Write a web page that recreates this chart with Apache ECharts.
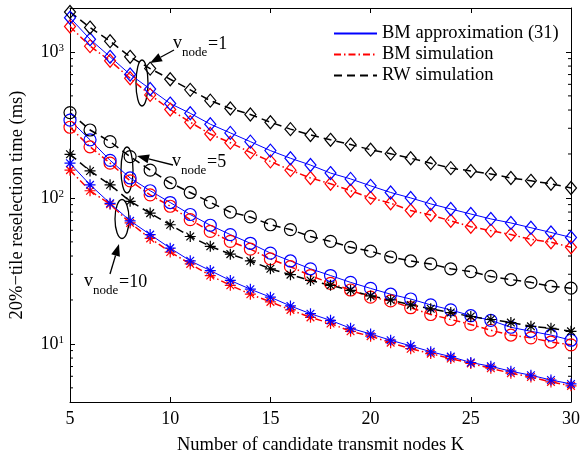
<!DOCTYPE html>
<html>
<head>
<meta charset="utf-8">
<script src="https://cdn.jsdelivr.net/npm/echarts@6/dist/echarts.min.js"></script>
<style>
  html, body { margin: 0; padding: 0; background: #fff; }
  #main { width: 583px; height: 460px; }
</style>
</head>
<body>
<div id="main"></div>
<script>
// number of candidate transmit nodes
var K = [5, 6, 7, 8, 9, 10, 11, 12, 13, 14, 15, 16, 17, 18, 19, 20, 21, 22, 23, 24, 25, 26, 27, 28, 29, 30];

// v_node = 1
var bmApprox1 = [1715, 1222, 926, 701, 557, 443, 380, 320, 279, 243, 211, 187, 168, 148, 135, 121, 109, 100, 91, 84, 77.6, 71.8, 67.4, 62.5, 58, 53.6];
var bmSim1 = [1493, 1096, 870, 660, 508, 403, 330, 274, 239, 205, 178, 155, 137, 125, 112, 100, 92, 82, 76.4, 69.7, 63.5, 59.7, 56.1, 52, 49.7, 45.9];
var rw1 = [1880, 1469, 1185, 926, 769, 650, 550, 464, 410, 373, 330, 296, 270, 250, 232, 214, 201, 187, 173, 160, 153, 146, 137, 131, 125, 117];

// v_node = 5
var bmApprox5 = [341, 250, 181, 137, 112, 93, 77, 65, 56.1, 48.9, 41.9, 37.0, 32.7, 29.4, 26.4, 24.0, 21.9, 20.3, 18.5, 17.1, 15.6, 14.5, 13.0, 12.2, 11.5, 10.6];
var bmSim5 = [305, 224, 173, 131, 105, 87.7, 71, 59, 50.4, 44.6, 38.2, 33.8, 29.4, 26.0, 23.4, 20.9, 19.7, 17.7, 15.9, 14.7, 13.6, 12.4, 11.5, 11.0, 10.3, 9.85];
var rw5 = [384, 292, 243, 192, 155, 127, 109, 93.3, 80.0, 74.1, 65.5, 60.7, 54.5, 50.4, 45.9, 43.2, 39.4, 37.0, 35.3, 32.7, 31.3, 29.0, 27.6, 26.4, 24.8, 24.1];

// v_node = 10
var bmApprox10 = [173, 123, 91.9, 69.7, 56.1, 45.3, 37.1, 31.8, 27.2, 23.7, 20.9, 18.2, 16.1, 14.5, 12.8, 11.7, 10.6, 9.7, 8.84, 8.18, 7.46, 7.02, 6.5, 6.1, 5.66, 5.32];
var bmSim10 = [155, 112, 90.5, 67.4, 52.8, 42.6, 35.3, 29.4, 25.2, 21.9, 19.4, 17.1, 15.2, 13.8, 12.2, 11.3, 10.2, 9.27, 8.58, 7.94, 7.35, 6.81, 6.3, 5.93, 5.49, 5.16];
var rw10 = [199, 153, 123, 94.8, 78.7, 65.5, 54.4, 46.6, 41.2, 37.0, 32.7, 29.8, 27.2, 25.2, 23.3, 21.3, 20.0, 18.5, 17.4, 16.4, 15.4, 14.7, 14.0, 13.2, 12.8, 12.2];

// minor ticks of the log axis (2..9 x 10^n)
var minorTicks = [5, 6, 7, 8, 9, 20, 30, 40, 50, 60, 70, 80, 90, 200, 300, 400, 500, 600, 700, 800, 900];

var legendNames = ['BM approximation (31)', 'BM simulation', 'RW simulation'];

var FONT = 'Liberation Serif';
var blue = '#0000ff', red = '#ff0000', black = '#000000';
var dashDot = [7, 3, 1.5, 3];
var dashed = [8, 5];
var star = 'path://M0,-10L0,10M-10,0L10,0M-7,-7L7,7M-7,7L7,-7';

function pairs(vals) {
  return K.map(function (k, i) { return [k, vals[i]]; });
}

function lineSeries(name, vals, color, symbol, size, type, width) {
  return {
    name: name,
    type: 'line',
    data: pairs(vals),
    symbol: symbol,
    symbolSize: size,
    lineStyle: { color: color, width: width, type: type },
    itemStyle: { color: 'transparent', borderColor: color, borderWidth: 1.2 },
    emphasis: { disabled: true },
    silent: true
  };
}

function legendSeries(name, color, type, width) {
  return {
    name: name, type: 'line', data: [], symbol: 'none',
    lineStyle: { color: color, width: width, type: type }
  };
}

var series = [
  legendSeries(legendNames[0], blue, 'solid', 1.8),
  legendSeries(legendNames[1], red, dashDot, 1.5),
  legendSeries(legendNames[2], black, dashed, 1.5),

  lineSeries('sim1', bmSim1, red, 'diamond', [11, 13], dashDot, 1.5),
  lineSeries('app1', bmApprox1, blue, 'diamond', [11, 13], 'solid', 1),
  lineSeries('rw1', rw1, black, 'diamond', [11, 13], dashed, 1.5),

  lineSeries('sim5', bmSim5, red, 'circle', 12, dashDot, 1.5),
  lineSeries('app5', bmApprox5, blue, 'circle', 12, 'solid', 1),
  lineSeries('rw5', rw5, black, 'circle', 12, dashed, 1.5),

  lineSeries('sim10', bmSim10, red, star, 11, dashDot, 1.5),
  lineSeries('app10', bmApprox10, blue, star, 11, 'solid', 1),
  lineSeries('rw10', rw10, black, star, 11, dashed, 1.5),

  {
    type: 'custom',
    silent: true,
    clip: false,
    data: minorTicks.map(function (v) { return [5, v]; }),
    renderItem: function (params, api) {
      var v = api.value(1);
      var l = api.coord([5, v]);
      var r = api.coord([30, v]);
      var st = { stroke: '#000', lineWidth: 1 };
      return {
        type: 'group',
        children: [
          { type: 'line', shape: { x1: l[0], y1: l[1], x2: l[0] + 3, y2: l[1] }, style: st },
          { type: 'line', shape: { x1: r[0] - 3, y1: r[1], x2: r[0], y2: r[1] }, style: st }
        ]
      };
    }
  }
];

function expLabel(value) {
  var e = Math.log10(value);
  if (Math.abs(e - Math.round(e)) > 1e-6) return '';
  return '{b|10}{s|' + Math.round(e) + '}';
}

function arrow(tail, tip) {
  var dx = tip[0] - tail[0], dy = tip[1] - tail[1];
  var len = Math.sqrt(dx * dx + dy * dy);
  var ux = dx / len, uy = dy / len;
  var hl = 12, hw = 4.5;
  var bx = tip[0] - ux * hl, by = tip[1] - uy * hl;
  return {
    type: 'group',
    children: [
      { type: 'line', shape: { x1: tail[0], y1: tail[1], x2: bx, y2: by }, style: { stroke: '#000', lineWidth: 1.3 } },
      { type: 'polygon', shape: { points: [tip, [bx - uy * hw, by + ux * hw], [bx + uy * hw, by - ux * hw]] }, style: { fill: '#000' } }
    ]
  };
}

function vnode(x, y, value) {
  return {
    type: 'group',
    children: [
      { type: 'text', x: x, y: y, style: { text: 'v', font: '18px "' + FONT + '"', fill: '#000', verticalAlign: 'middle' } },
      { type: 'text', x: x + 9, y: y + 10, style: { text: 'node', font: '13px "' + FONT + '"', fill: '#000', verticalAlign: 'middle' } },
      { type: 'text', x: x + 35, y: y + 1, style: { text: '=' + value, font: '18px "' + FONT + '"', fill: '#000', verticalAlign: 'middle' } }
    ]
  };
}

var ellStyle = { fill: 'none', stroke: '#000', lineWidth: 1.3 };

var option = {
  animation: false,
  backgroundColor: '#fff',
  textStyle: { fontFamily: FONT },
  grid: { left: 64, right: 9, top: 8, bottom: 49 },
  legend: {
    data: legendNames,
    orient: 'vertical',
    left: 328,
    top: 19,
    itemWidth: 43,
    itemHeight: 19,
    itemGap: 2,
    itemStyle: { color: 'transparent', borderColor: 'transparent', borderWidth: 0 },
    textStyle: { fontFamily: FONT, fontSize: 18.5, color: '#000', lineHeight: 19 },
    selectedMode: false
  },
  xAxis: [
    {
      type: 'value', min: 5, max: 30, interval: 5,
      name: 'Number of candidate transmit nodes K',
      nameLocation: 'middle', nameGap: 34,
      nameTextStyle: { fontFamily: FONT, fontSize: 18.5, color: '#000' },
      axisLine: { lineStyle: { color: '#000', width: 1 } },
      axisTick: { inside: true, length: 5, lineStyle: { color: '#000' } },
      axisLabel: { fontFamily: FONT, fontSize: 18, color: '#000', margin: 8 },
      splitLine: { show: false }
    },
    {
      type: 'value', position: 'top', min: 5, max: 30, interval: 5,
      axisLine: { lineStyle: { color: '#000', width: 1 } },
      axisTick: { inside: true, length: 5, lineStyle: { color: '#000' } },
      axisLabel: { show: false },
      splitLine: { show: false }
    }
  ],
  yAxis: [
    {
      type: 'log', min: 4, max: 2000, logBase: 10,
      name: '20%\u2212tile reselection time (ms)',
      nameLocation: 'middle', nameGap: 43,
      nameTextStyle: { fontFamily: FONT, fontSize: 18.5, color: '#000' },
      axisLine: { show: true, lineStyle: { color: '#000', width: 1 } },
      axisTick: { inside: true, length: 5, lineStyle: { color: '#000' } },
      axisLabel: {
        formatter: expLabel, margin: 6,
        rich: {
          b: { fontFamily: FONT, fontSize: 18, color: '#000' },
          s: { fontFamily: FONT, fontSize: 11, color: '#000', verticalAlign: 'top' }
        }
      },
      splitLine: { show: false }
    },
    {
      type: 'log', min: 4, max: 2000, logBase: 10, position: 'right',
      axisLine: { show: true, lineStyle: { color: '#000', width: 1 } },
      axisTick: { inside: true, length: 5, lineStyle: { color: '#000' } },
      axisLabel: { show: false },
      splitLine: { show: false }
    }
  ],
  series: series,
  graphic: [
    { type: 'ellipse', shape: { cx: 142, cy: 83, rx: 6, ry: 23 }, style: ellStyle },
    { type: 'ellipse', shape: { cx: 127, cy: 170, rx: 6, ry: 23 }, style: ellStyle },
    { type: 'ellipse', shape: { cx: 122, cy: 219, rx: 7, ry: 19.5 }, style: ellStyle },
    arrow([174, 50], [150, 63]),
    arrow([173, 165], [137, 156]),
    arrow([110, 274], [119, 244]),
    vnode(173, 43, '1'),
    vnode(172, 161, '5'),
    vnode(84, 281, '10')
  ]
};

var chart = echarts.init(document.getElementById('main'));
chart.setOption(option);
</script>
</body>
</html>
